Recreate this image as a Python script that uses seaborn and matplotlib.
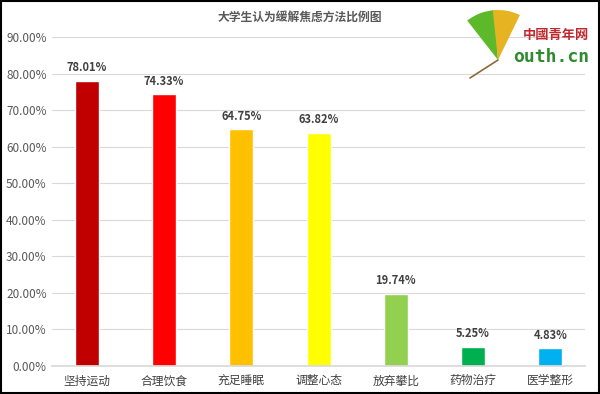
import pandas as pd
import seaborn as sns
import matplotlib.pyplot as plt
from matplotlib.patches import Rectangle, Wedge
from matplotlib.lines import Line2D

categories = ['坚持运动', '合理饮食', '充足睡眠', '调整心态', '放弃攀比', '药物治疗', '医学整形']
values = [78.01, 74.33, 64.75, 63.82, 19.74, 5.25, 4.83]
colors = ['#C00000', '#FF0000', '#FFC000', '#FFFF00', '#92D050', '#00B050', '#00B0F0']
yticks = [0, 10, 20, 30, 40, 50, 60, 70, 80, 90]

sns.set_theme(style='white')
plt.rcParams['font.family'] = ['Noto Sans CJK SC', 'DejaVu Sans']

df = pd.DataFrame({'cat': categories, 'val': values})

fig = plt.figure(figsize=(6, 3.94), dpi=100)
ax = fig.add_axes([0.087, 0.071, 0.888, 0.835])
sns.barplot(data=df, x='cat', y='val', hue='cat', palette=colors, legend=False,
            width=0.31, ax=ax, saturation=1)

ax.set_ylim(0, 90)
ax.set_xlim(-0.45, 6.45)
ax.set_yticks(yticks)
ax.set_yticklabels([f'{t:.2f}%' for t in yticks], color='#595959', fontsize=8.5)
ax.tick_params(axis='x', labelsize=8.5, labelcolor='#404040', length=0, pad=6)
ax.tick_params(axis='y', length=0, pad=4)
ax.set_xlabel('')
ax.set_ylabel('')
ax.yaxis.grid(True, color='#D9D9D9', linewidth=0.8)
ax.set_axisbelow(True)
for s in ['top', 'right', 'left']:
    ax.spines[s].set_visible(False)
ax.spines['bottom'].set_color('#D9D9D9')

for i, v in enumerate(values):
    ax.text(i, v + 1.8, f'{v:.2f}%', ha='center', va='bottom', fontsize=8,
            fontweight='bold', color='#404040')

fig.text(0.5, 0.955, '大学生认为缓解焦虑方法比例图', ha='center', va='center',
         fontsize=8.5, fontweight='bold', color='#595959')

# logo approximation: ginkgo leaf + text (inch coords keep the fan round)
tr = fig.dpi_scale_trans
fig.lines.append(Line2D([4.98, 4.70], [3.34, 3.16], transform=tr,
                        color='#8B6A3A', linewidth=1.2))
fig.patches.append(Wedge((4.98, 3.34), 0.5, 94, 128, transform=tr,
                         facecolor='#5DB82A', edgecolor='none'))
fig.patches.append(Wedge((4.98, 3.34), 0.5, 64, 96, transform=tr,
                         facecolor='#E6B422', edgecolor='none'))
fig.text(0.982, 0.912, '中國青年网', ha='right', va='center', fontsize=9.5,
         fontweight='bold', color='#C0282D')
fig.text(0.982, 0.856, 'outh.cn', ha='right', va='center', fontsize=13,
         fontweight='bold', color='#2E8B2E', family=['DejaVu Sans Mono'])

fig.patches.append(Rectangle((0.002, 0.003), 0.996, 0.994, transform=fig.transFigure,
                             fill=False, edgecolor='black', linewidth=1.5))

fig.savefig('out.png', dpi=100)
